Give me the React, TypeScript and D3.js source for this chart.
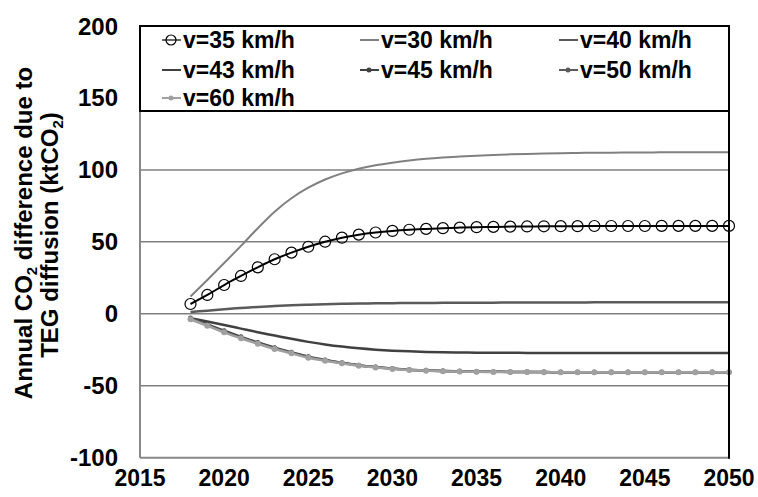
import React from "react";
import * as d3 from "d3";

const years = d3.range(2018, 2051);
const xTicks = [2015, 2020, 2025, 2030, 2035, 2040, 2045, 2050];
const yTicks = [-100, -50, 0, 50, 100, 150, 200];
const gridValues = [-50, 0, 50, 100, 150];

const v35 = [6.8, 13.1, 20, 26.3, 32.3, 37.9, 42.5, 46.6, 50.1, 52.9, 55,
  56.5, 57.6, 58.4, 59, 59.5, 59.9, 60.2, 60.4, 60.6, 60.7, 60.8, 60.9,
  60.9, 61, 61, 61, 61, 61.1, 61.1, 61.1, 61.1, 61.1];
const v30 = [12, 23.5, 35.3, 47.2, 59.5, 71, 80.3, 87.6, 93.3, 97.6, 100.8,
  103.2, 105, 106.5, 107.7, 108.6, 109.3, 109.9, 110.4, 110.8, 111.1, 111.4, 111.6,
  111.8, 111.9, 112, 112.1, 112.1, 112.2, 112.2, 112.3, 112.3, 112.3];
const v40 = [1.2, 2.2, 3.2, 4.0, 4.8, 5.4, 5.9, 6.3, 6.6, 6.9, 7.1,
  7.25, 7.4, 7.5, 7.55, 7.6, 7.65, 7.7, 7.75, 7.8, 7.85, 7.9, 7.9,
  7.9, 7.95, 7.95, 8, 8, 8, 8, 8, 8, 8];
const v43 = [-3, -5.4, -7.8, -10.3, -12.8, -15.1, -17.4, -19.5, -21.3, -22.8, -24,
  -24.9, -25.6, -26.1, -26.5, -26.7, -26.9, -27, -27.1, -27.1, -27.2, -27.2, -27.2,
  -27.3, -27.3, -27.3, -27.3, -27.3, -27.3, -27.3, -27.3, -27.3, -27.3];
const v45 = [-3, -7.3, -11.8, -16, -19.9, -23.6, -26.8, -29.8, -32.1, -34, -35.7,
  -37, -38, -38.8, -39.3, -39.7, -40, -40.2, -40.3, -40.4, -40.5, -40.5, -40.6,
  -40.6, -40.6, -40.6, -40.6, -40.6, -40.6, -40.6, -40.6, -40.6, -40.6];
const v50 = [-3.4, -7.8, -12.4, -16.5, -20.4, -24, -27.1, -30.1, -32.3, -34.2, -35.9,
  -37.1, -38.1, -38.9, -39.4, -39.8, -40, -40.2, -40.3, -40.4, -40.5, -40.5, -40.6,
  -40.6, -40.6, -40.6, -40.6, -40.6, -40.6, -40.6, -40.6, -40.6, -40.6];
const v60 = [-3.8, -8.3, -12.9, -17, -20.8, -24.5, -27.5, -30.5, -32.6, -34.4, -36.1,
  -37.3, -38.3, -39, -39.5, -39.9, -40.1, -40.3, -40.4, -40.5, -40.5, -40.6, -40.6,
  -40.6, -40.7, -40.7, -40.7, -40.7, -40.7, -40.7, -40.7, -40.7, -40.7];

const seriesLabels = ["v=35 km/h", "v=30 km/h", "v=40 km/h", "v=43 km/h", "v=45 km/h", "v=50 km/h", "v=60 km/h"];

type S = { label: string; values: number[]; color: string; width: number; marker: "circle" | "dot" | "none"; mr: number; mfill: string };

const series: S[] = [
  { label: seriesLabels[1], values: v30, color: "#808080", width: 2, marker: "none", mr: 0, mfill: "none" },
  { label: seriesLabels[2], values: v40, color: "#5a5a5a", width: 2.5, marker: "none", mr: 0, mfill: "none" },
  { label: seriesLabels[3], values: v43, color: "#404040", width: 2.5, marker: "none", mr: 0, mfill: "none" },
  { label: seriesLabels[4], values: v45, color: "#404040", width: 2.5, marker: "dot", mr: 2.5, mfill: "#404040" },
  { label: seriesLabels[5], values: v50, color: "#5a5a5a", width: 2.5, marker: "dot", mr: 2.5, mfill: "#5a5a5a" },
  { label: seriesLabels[6], values: v60, color: "#a0a0a0", width: 2.5, marker: "dot", mr: 3, mfill: "#a0a0a0" },
  { label: seriesLabels[0], values: v35, color: "#000000", width: 2, marker: "circle", mr: 5.5, mfill: "none" },
];

const legendOrder = [6, 0, 1, 2, 3, 4, 5];

const W = 758, H = 497;
const L = 140, R = 729, T = 26, B = 457.7;
const FONT = "'Liberation Sans', Arial, sans-serif";

export default function App() {
  const x = d3.scaleLinear().domain([2015, 2050]).range([L, R]);
  const y = d3.scaleLinear().domain([-100, 200]).range([B, T]);
  const line = d3.line<number>().x((_, i) => x(years[i])).y((d) => y(d)).curve(d3.curveMonotoneX);

  const legendCols = [183, 381, 580];
  const legendRows = [40, 70, 98];

  return (
    <svg width={W} height={H} style={{ position: "absolute", left: 0, top: 0, background: "#fff" }} fontFamily={FONT}>
      <rect x={0} y={0} width={W} height={H} fill="#fff" />
      {gridValues.map((g) => (
        <line key={g} x1={L} x2={R} y1={y(g)} y2={y(g)} stroke="#808080" strokeWidth={1.5} />
      ))}
      {series.map((s) => (
        <g key={s.label}>
          <path d={line(s.values) || ""} fill="none" stroke={s.color} strokeWidth={s.width} />
          {s.marker !== "none" &&
            s.values.map((v, i) => (
              <circle key={i} cx={x(years[i])} cy={y(v)} r={s.mr} fill={s.marker === "circle" ? "#fff" : s.mfill}
                fillOpacity={s.marker === "circle" ? 0 : 1}
                stroke={s.marker === "circle" ? "#000" : "none"} strokeWidth={1.2} />
            ))}
        </g>
      ))}
      {/* axes */}
      <line x1={L} x2={L} y1={T} y2={B} stroke="#888" strokeWidth={2} />
      <line x1={L} x2={R} y1={B} y2={B} stroke="#888" strokeWidth={2} />
      <line x1={R} x2={R} y1={T} y2={B + 1} stroke="#000" strokeWidth={2} />
      {/* legend */}
      <rect x={L} y={T} width={R - L} height={111 - T} fill="#fff" stroke="#000" strokeWidth={2} />
      {legendOrder.map((si, k) => {
        const s = series[si];
        const cx = legendCols[k % 3];
        const cy = legendRows[Math.floor(k / 3)];
        return (
          <g key={s.label}>
            <line x1={cx - 21} x2={cx - 2} y1={cy} y2={cy} stroke={s.color} strokeWidth={s.marker === "circle" ? 1.2 : 2} />
            {s.marker !== "none" && (
              <circle cx={cx - 12} cy={cy} r={s.marker === "circle" ? 5 : 2.5} fill={s.marker === "circle" ? "none" : s.mfill}
                stroke={s.marker === "circle" ? "#000" : "none"} strokeWidth={1.2} />
            )}
            <text x={cx} y={cy + 8} fontSize={23} fontWeight="bold" fill="#000">{s.label}</text>
          </g>
        );
      })}
      {/* tick labels */}
      {yTicks.map((t) => (
        <text key={t} x={118} y={y(t) + 8.5} textAnchor="end" fontSize={24} fontWeight="bold" fill="#000">{t}</text>
      ))}
      {xTicks.map((t) => (
        <text key={t} x={x(t)} y={485.5} textAnchor="middle" fontSize={23} fontWeight="bold" fill="#000">{t}</text>
      ))}
      {/* y title */}
      <g transform={`translate(32, 233) rotate(-90)`}>
        <text textAnchor="middle" fontSize={24} fontWeight="bold" fill="#000">
          Annual CO<tspan fontSize={15} dy={5}>2</tspan><tspan dy={-5}> difference due to</tspan>
        </text>
      </g>
      <g transform={`translate(58, 235) rotate(-90)`}>
        <text textAnchor="middle" fontSize={24} fontWeight="bold" fill="#000">
          TEG diffusion (ktCO<tspan fontSize={15} dy={5}>2</tspan><tspan dy={-5}>)</tspan>
        </text>
      </g>
    </svg>
  );
}
